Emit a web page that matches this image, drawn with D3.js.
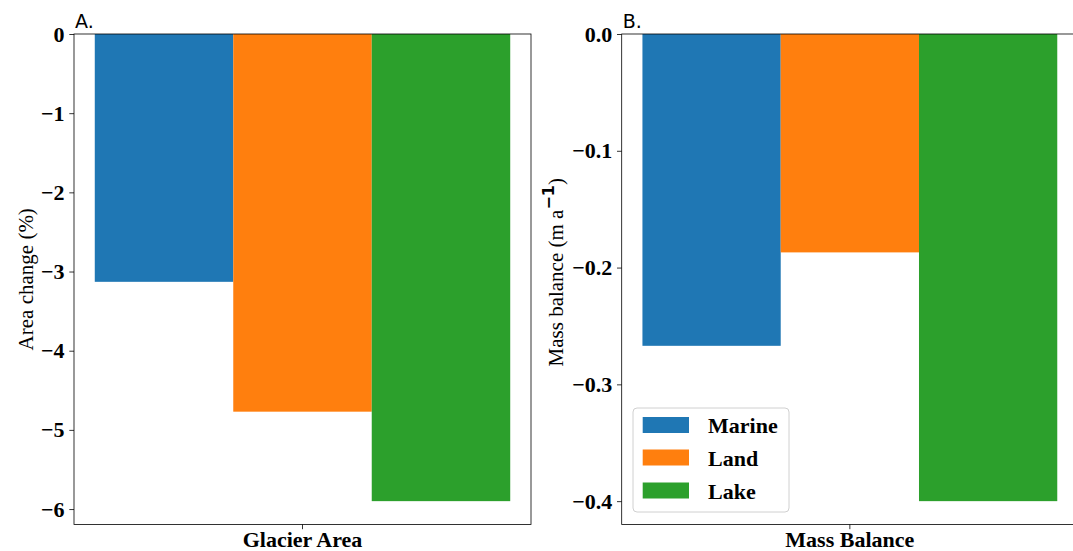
<!DOCTYPE html>
<html>
<head>
<meta charset="utf-8">
<script src="https://cdn.jsdelivr.net/npm/d3@7"></script>
<style>
  html, body { margin: 0; padding: 0; background: #fff; }
  svg { display: block; }
</style>
</head>
<body>
<svg id="chart" width="1073" height="551"></svg>
<script>
// ---- Data ----
const series = ["Marine", "Land", "Lake"];
const colors = ["#1f77b4", "#ff7f0e", "#2ca02c"];
const areaChange = [-3.13, -4.77, -5.90];
const massBalance = [-0.267, -0.187, -0.400];
const areaTicks = [0, -1, -2, -3, -4, -5, -6];
const massTicks = [0.0, -0.1, -0.2, -0.3, -0.4];
const panelLabels = ["A.", "B."];
const xLabels = ["Glacier Area", "Mass Balance"];

const svg = d3.select("#chart");
const serif = "'Liberation Serif', 'Times New Roman', serif";
const minus = s => s.replace("-", "\u2212");

const panels = [
  { x0: 74, x1: 531, values: areaChange, domain: [-6.195, 0], ticks: areaTicks,
    fmt: d => minus(d3.format("d")(d)), label: panelLabels[0], xlab: xLabels[0] },
  { x0: 621.7, x1: 1078, values: massBalance, domain: [-0.42, 0], ticks: massTicks,
    fmt: d => minus(d3.format(".1f")(d)), label: panelLabels[1], xlab: xLabels[1] }
];
const y0 = 34, y1 = 524.5;

panels.forEach((p, pi) => {
  const g = svg.append("g");
  const x = d3.scaleBand().domain(series).range([p.x0, p.x1]).paddingInner(0).paddingOuter(0.15);
  const y = d3.scaleLinear().domain(p.domain).range([y1, y0]);

  g.selectAll("rect.bar").data(series).enter().append("rect")
    .attr("class", "bar")
    .attr("x", d => x(d))
    .attr("width", x.bandwidth())
    .attr("y", y(0))
    .attr("height", (d, i) => y(p.values[i]) - y(0))
    .attr("fill", (d, i) => colors[i]);

  // y axis
  const ya = d3.axisLeft(y).tickValues(p.ticks).tickFormat(p.fmt).tickSize(4.7).tickPadding(4.7);
  const yg = g.append("g").attr("transform", `translate(${p.x0},0)`).call(ya);
  yg.select(".domain").remove();
  yg.selectAll(".tick line").attr("stroke", "#000").attr("stroke-width", 0.8);
  yg.selectAll(".tick text").attr("font-family", serif).attr("font-weight", "bold")
    .attr("font-size", 22).attr("fill", "#000");

  // x axis single tick
  const xc = (p.x0 + p.x1) / 2;
  g.append("line").attr("x1", xc).attr("x2", xc).attr("y1", y1).attr("y2", y1 + 4.7)
    .attr("stroke", "#000").attr("stroke-width", 0.8);
  g.append("text").attr("x", xc).attr("y", 547).attr("text-anchor", "middle")
    .attr("font-family", serif).attr("font-weight", "bold").attr("font-size", 22)
    .text(p.xlab);

  // spines
  g.append("rect").attr("x", p.x0).attr("y", y0).attr("width", p.x1 - p.x0).attr("height", y1 - y0)
    .attr("fill", "none").attr("stroke", "#000").attr("stroke-width", 0.8);

  // panel label
  g.append("text").attr("x", p.x0 + 1).attr("y", 28)
    .attr("font-family", "'DejaVu Sans', sans-serif").attr("font-size", 19)
    .text(p.label);
});

// y labels
svg.append("text")
  .attr("transform", `translate(33,${(y0 + y1) / 2}) rotate(-90)`)
  .attr("text-anchor", "middle")
  .attr("font-family", serif).attr("font-size", 21)
  .text("Area change (%)");

const t2 = svg.append("text")
  .attr("transform", `translate(563,${(y0 + y1) / 2 - 7}) rotate(-90)`)
  .attr("text-anchor", "middle")
  .attr("font-family", serif).attr("font-size", 21);
t2.append("tspan").text("Mass balance (m a");
t2.append("tspan").attr("dy", -9).attr("font-family", "'DejaVu Sans', sans-serif")
  .attr("font-weight", "bold").attr("font-size", 16).text("\u22121");
t2.append("tspan").attr("dy", 9).text(")");

// legend
const lg = svg.append("g");
lg.append("rect").attr("x", 633).attr("y", 408).attr("width", 156).attr("height", 104)
  .attr("rx", 4).attr("fill", "#fff").attr("fill-opacity", 0.8)
  .attr("stroke", "#d0d0d0").attr("stroke-width", 1);
const rowY = [425, 457.5, 490.5];
series.forEach((s, i) => {
  lg.append("rect").attr("x", 642.7).attr("y", rowY[i] - 8).attr("width", 46.3).attr("height", 16)
    .attr("fill", colors[i]);
  lg.append("text").attr("x", 708).attr("y", rowY[i] + 8)
    .attr("font-family", serif).attr("font-weight", "bold").attr("font-size", 22)
    .text(s);
});
</script>
</body>
</html>
